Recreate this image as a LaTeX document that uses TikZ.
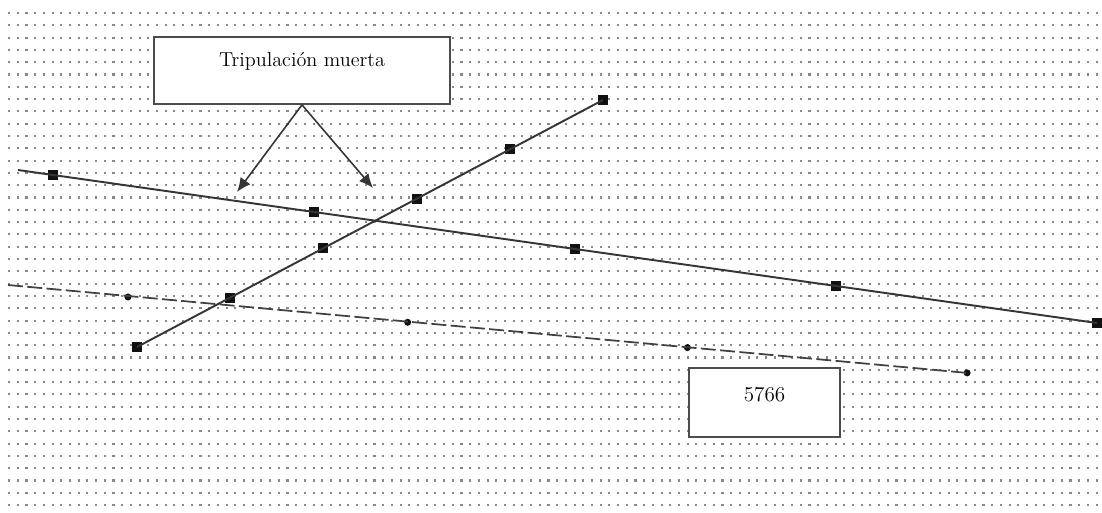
\documentclass[tikz,border=0pt]{standalone}
\usepackage{tikz}
\usetikzlibrary{arrows.meta,calc,positioning}
\definecolor{ink}{HTML}{111111}
\definecolor{grain}{HTML}{888888}
\tikzset{sqmark/.style={fill=ink,inner sep=0pt,minimum size=5.8pt}, dotmark/.style={circle,fill=ink,inner sep=0pt,minimum size=4pt}, trendline/.style={draw=ink!85,line width=1.1pt}, dashline/.style={draw=ink!80,line width=1pt,dash pattern=on 8.5pt off 2.5pt}, callout/.style={draw=ink!75,line width=1.2pt,fill=white,inner sep=0pt,align=center}, pointer/.style={draw=ink!85,line width=.9pt,-{Latex[length=8pt,width=7pt]}}}

\begin{document}
\begin{tikzpicture}[x=.02cm,y=-.02cm]
\useasboundingbox (0,0) rectangle (1102,513);
\fill[white] (0,0) rectangle (1102,513);
% dotted ground
\foreach \i in {0,...,125}{
 \foreach \j in {0,...,40}{
  \fill[grain] (8+8.7*\i,12+12.3*\j) rectangle ++(2.1,2.1);
 }
}
% markers
\foreach \k in {0,...,4}{
 \node[sqmark] (a\k) at (53+261*\k,175+37*\k) {};
}
\foreach \k in {0,...,5}{
 \node[sqmark] (b\k) at (137+93.2*\k,347-49.4*\k) {};
}
\foreach \k in {0,...,3}{
 \node[dotmark] (c\k) at (128+279.7*\k,297+25.3*\k) {};
}
\coordinate (aStart) at (18,170);
\coordinate (cStart) at (8,285);
\draw[trendline] (aStart) -- (a0.center) -- (a4.center);
\draw[trendline] (b0.center) -- (b5.center);
\draw[dashline] (cStart) -- (c3.center);
% boxes
\node[callout,font=\fontsize{11.5}{13}\selectfont,minimum width=168pt,text height=16.4pt,text depth=21.5pt] (trip) at (302,70.5) {Tripulación muerta};
\node[callout,font=\fontsize{12}{14}\selectfont,minimum width=85.6pt,text height=18.7pt,text depth=20.4pt] (tot) at (764.5,402.5) {5766};
\coordinate (hitL) at (237,192);
\coordinate (hitR) at (373,188);
\draw[pointer] (trip.south) -- (hitL);
\draw[pointer] (trip.south) -- (hitR);
\end{tikzpicture}
\end{document}
